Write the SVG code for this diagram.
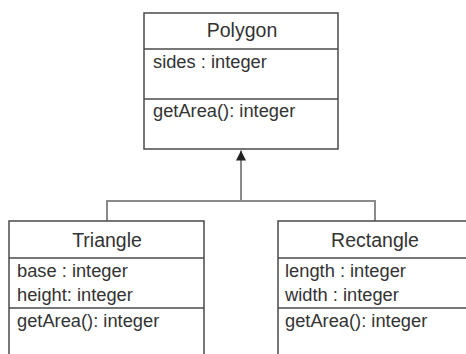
<svg xmlns="http://www.w3.org/2000/svg" width="466" height="354" viewBox="0 0 466 354">
  <style>
    .box { fill: #ffffff; stroke: #4a4a4a; stroke-width: 1.5; }
    .sep { stroke: #4a4a4a; stroke-width: 1.5; }
    .title { font-family: "Liberation Sans", Arial, sans-serif; font-size: 19.5px; fill: #333333; text-anchor: middle; }
    .member { font-family: "Liberation Sans", Arial, sans-serif; font-size: 18.3px; fill: #333333; }
    .link { fill: none; stroke: #8a8a8a; stroke-width: 2; }
  </style>
  <defs>
    <marker id="head" viewBox="0 0 10 10" refX="10" refY="5" markerWidth="10" markerHeight="10" markerUnits="userSpaceOnUse" orient="auto">
      <path d="M0,0 L10,5 L0,10 Z" fill="#222222"/>
    </marker>
  </defs>
  <rect width="466" height="354" fill="#ffffff"/>

  <!-- inheritance connectors -->
  <g id="connectors">
    <path class="link" d="M107,221 V201 H375 V221"/>
    <path class="link" d="M241,201 V150.5" marker-end="url(#head)"/>
  </g>

  <!-- base class -->
  <g id="polygon">
    <rect class="box" x="144" y="13" width="194" height="136"/>
    <line class="sep" x1="144" y1="49" x2="338" y2="49"/>
    <line class="sep" x1="144" y1="99" x2="338" y2="99"/>
    <text class="title" x="242" y="37">Polygon</text>
    <text class="member" x="153" y="68">sides : integer</text>
    <text class="member" x="153" y="117">getArea(): integer</text>
  </g>

  <!-- derived classes -->
  <g id="triangle">
    <rect class="box" x="9" y="221" width="195" height="150"/>
    <line class="sep" x1="9" y1="258" x2="204" y2="258"/>
    <line class="sep" x1="9" y1="308" x2="204" y2="308"/>
    <text class="title" x="107" y="247">Triangle</text>
    <text class="member" x="17" y="277">base : integer</text>
    <text class="member" x="17" y="301">height: integer</text>
    <text class="member" x="17" y="327">getArea(): integer</text>
  </g>

  <g id="rectangle">
    <rect class="box" x="278" y="221" width="195" height="150"/>
    <line class="sep" x1="278" y1="258" x2="473" y2="258"/>
    <line class="sep" x1="278" y1="308" x2="473" y2="308"/>
    <text class="title" x="375" y="247">Rectangle</text>
    <text class="member" x="285" y="277">length : integer</text>
    <text class="member" x="285" y="301">width : integer</text>
    <text class="member" x="285" y="327">getArea(): integer</text>
  </g>
</svg>
